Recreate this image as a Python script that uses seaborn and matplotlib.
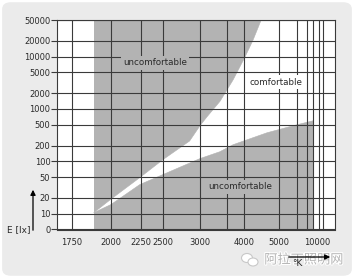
import numpy as np
import matplotlib
matplotlib.use("Agg")
import matplotlib.pyplot as plt
import seaborn as sns
from matplotlib.patches import FancyBboxPatch, Ellipse, FancyArrowPatch
from matplotlib.ticker import NullLocator, FixedLocator
from matplotlib.transforms import ScaledTranslation
import matplotlib.patheffects as pe

# ---------------- data (colour temperature in K, illuminance in lx) ----------------
upper_k = [1890, 2000, 2240, 2500, 2860, 3000, 3130, 3370, 3680, 4030, 4260, 4490]
upper_lux = [10.5, 19, 49, 108, 245, 480, 710, 1400, 3600, 9900, 20800, 50000]
lower_k = [1890, 2000, 2240, 2500, 3000, 3370, 3680, 4660, 6000, 8000]
lower_lux = [10.5, 15, 36, 56, 113, 153, 208, 352, 500, 595]
shade_k = [1890, 8000]

x_tick_k = [1750, 2000, 2250, 2500, 3000, 4000, 5000, 10000]
x_tick_labels = ["1750", "2000", "2250", "2500", "3000", "4000", "5000", "10000"]
x_minor_k = [3500, 6000, 7000, 8000, 9000]
y_tick_lux = [5, 10, 20, 50, 100, 200, 500, 1000, 2000, 5000, 10000, 20000, 50000]
y_tick_labels = ["0", "10", "20", "50", "100", "200", "500", "1000", "2000",
                 "5000", "10000", "20000", "50000"]

# non-uniform temperature axis of the original chart (anchor K -> axis position)
x_scale_k = [1600, 1750, 2000, 2250, 2500, 3000, 3500, 4000, 5000, 6000, 7000, 8000, 9000, 10000, 12000]
x_scale_pos = [57.3, 72, 111, 141, 163, 200, 227, 244, 279, 297, 307, 313, 319, 323, 335.3]

GRAY = "#b3b3b3"
GRID = "#3a3a3a"
TXT = "#2a2a2a"

sns.set_style("white")
plt.rcParams["font.family"] = ["DejaVu Sans", "Noto Sans CJK SC"]

W, H = 354, 278
fig = plt.figure(figsize=(W / 100, H / 100), dpi=100)
fig.patch.set_facecolor("white")
fig.patches.append(FancyBboxPatch((0.006, 0.008), 0.988, 0.984,
                                  boxstyle="round,pad=0,rounding_size=0.025",
                                  transform=fig.transFigure, fc="#ebebeb", ec="none", zorder=-5))

def fx(px):
    return px / W

def fy(py):
    return 1 - py / H

ax = fig.add_axes([fx(57.3), fy(229.5), (335.3 - 57.3) / W, (229.5 - 20) / H])
ax.set_zorder(1)
ax.set_facecolor("white")

# shaded band and comfortable region
ax.axvspan(shade_k[0], shade_k[1], color=GRAY, lw=0, zorder=1)
poly_k = list(lower_k) + [lower_k[-1]] + list(upper_k[::-1])
poly_lux = list(lower_lux) + [upper_lux[-1]] + list(upper_lux[::-1])
ax.fill(poly_k, poly_lux, color="white", lw=0, zorder=1.1)
sns.lineplot(x=upper_k, y=upper_lux, color=GRAY, lw=0.4, ax=ax, zorder=1.2, sort=False)
sns.lineplot(x=lower_k, y=lower_lux, color=GRAY, lw=0.4, ax=ax, zorder=1.2, sort=False)

# scales
def fwd(k):
    return np.interp(k, x_scale_k, x_scale_pos)

def inv(p):
    return np.interp(p, x_scale_pos, x_scale_k)

ax.set_xscale("function", functions=(fwd, inv))
ax.set_yscale("log")
ax.set_xlim(x_scale_k[0], x_scale_k[-1])
ax.set_ylim(y_tick_lux[0], y_tick_lux[-1])

ax.xaxis.set_major_locator(FixedLocator(x_tick_k))
ax.set_xticklabels(x_tick_labels)
ax.xaxis.set_minor_locator(FixedLocator(x_minor_k))
ax.yaxis.set_major_locator(FixedLocator(y_tick_lux))
ax.set_yticklabels(y_tick_labels)
ax.yaxis.set_minor_locator(NullLocator())

ax.set_axisbelow(False)
ax.grid(True, which="both", axis="x", color=GRID, lw=0.8, zorder=2)
ax.grid(True, which="major", axis="y", color=GRID, lw=0.8, zorder=2)
ax.tick_params(axis="x", which="both", length=0, pad=6, labelsize=6, labelcolor=TXT)
ax.tick_params(axis="y", which="major", length=4, width=0.8, color=GRID, pad=1,
               labelsize=6, labelcolor=TXT, left=True)
for s in ax.spines.values():
    s.set_visible(True)
    s.set_color(GRID)
    s.set_linewidth(0.8)
ax.set_xlabel("")
ax.set_ylabel("")

# shift the last x label slightly left, as in the original
lbl = ax.get_xticklabels()[-1]
lbl.set_transform(lbl.get_transform() + ScaledTranslation(-6 / 100, 0, fig.dpi_scale_trans))

# region labels
ax.text(0.351, 0.795, "uncomfortable", transform=ax.transAxes, ha="center", va="center",
        fontsize=6.3, color=TXT, zorder=3,
        bbox=dict(fc=GRAY, ec="none", pad=1.5))
ax.text(0.787, 0.704, "comfortable", transform=ax.transAxes, ha="center", va="center",
        fontsize=6.3, color=TXT, zorder=3,
        bbox=dict(fc="white", ec="none", pad=1.5))
ax.text(0.657, 0.203, "uncomfortable", transform=ax.transAxes, ha="center", va="center",
        fontsize=6.3, color=TXT, zorder=3,
        bbox=dict(fc=GRAY, ec="none", pad=1.5))

# axis titles with arrows
fig.text(fx(19), fy(230), "E [lx]", ha="center", va="center", fontsize=6.5, color=TXT)
fig.add_artist(FancyArrowPatch((fx(33), fy(233)), (fx(33), fy(187)),
               transform=fig.transFigure, arrowstyle="-|>,head_length=3,head_width=1.5",
               color="black", lw=0.9, mutation_scale=1))
fig.text(fx(297), fy(264), "°K", ha="center", va="center", fontsize=6.5, color=TXT, zorder=4)
fig.add_artist(FancyArrowPatch((fx(286), fy(257)), (fx(333), fy(257)),
               transform=fig.transFigure, arrowstyle="-|>,head_length=3,head_width=1.5",
               color="black", lw=0.9, mutation_scale=1, zorder=4))

# watermark
for cx, cy, w, h in [(247, 258, 11, 9), (253, 262, 10, 8)]:
    fig.add_artist(Ellipse((fx(cx), fy(cy)), w / W, h / H, transform=fig.transFigure,
                           fc="white", ec="#c8c8c8", lw=0.8))
fig.text(fx(304), fy(260), "阿拉丁照明网", ha="center", va="center", fontsize=9.5,
         color="#b5b5b5", family=["Noto Sans CJK SC", "DejaVu Sans"], zorder=3,
         path_effects=[pe.withStroke(linewidth=1.5, foreground="white")])

fig.savefig("out.png", dpi=100, facecolor=fig.get_facecolor())
